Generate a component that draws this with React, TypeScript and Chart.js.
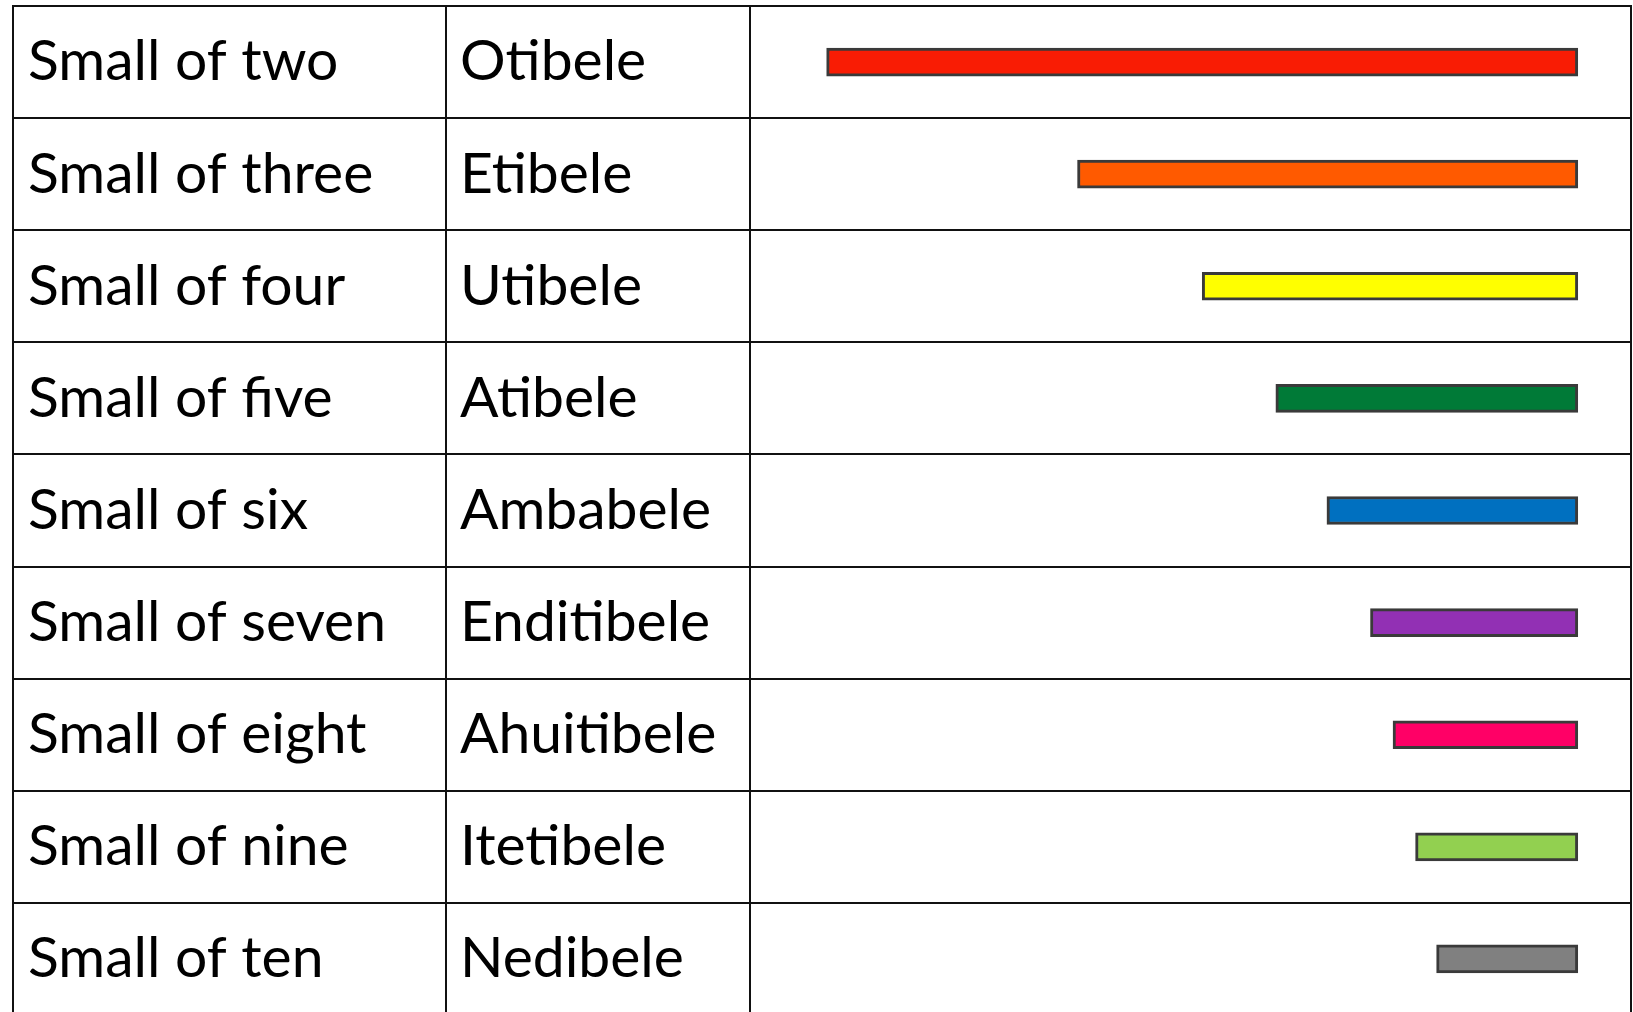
import React, { useEffect, useRef } from "react";
import { Chart, registerables } from "chart.js";

Chart.register(...registerables);

const englishNames = [
  "Small of two",
  "Small of three",
  "Small of four",
  "Small of five",
  "Small of six",
  "Small of seven",
  "Small of eight",
  "Small of nine",
  "Small of ten",
];
const localNames = [
  "Otibele",
  "Etibele",
  "Utibele",
  "Atibele",
  "Ambabele",
  "Enditibele",
  "Ahuitibele",
  "Itetibele",
  "Nedibele",
];
// length of each bar as a part of one whole; all bars end at the whole (1)
const barLengths = [0.5, 0.333, 0.25, 0.201, 0.167, 0.138, 0.123, 0.108, 0.094];
const barEnd = 1;
const barColors = [
  "#F91C04",
  "#FF5A00",
  "#FFFF00",
  "#007A37",
  "#0070C0",
  "#9230B4",
  "#FF0066",
  "#92D050",
  "#808080",
];
const xMin = 0.449;
const xMax = 1.0354;

const LINE = "#111111";
const FONT = { family: "Lato", size: 57 };

const fixPad = (s: any, w: number) => {
  s.width = w;
  s.paddingTop = 0;
  s.paddingBottom = 0;
  s.paddingLeft = 0;
  s.paddingRight = 0;
};

export default function App() {
  const ref = useRef<HTMLCanvasElement | null>(null);

  useEffect(() => {
    if (!ref.current) return;
    const data = barLengths.map((len) => [barEnd - len, barEnd]);
    const chart = new Chart(ref.current, {
      type: "bar",
      data: {
        labels: englishNames,
        datasets: [
          {
            data: data as any,
            backgroundColor: barColors,
            borderColor: "#3A3A3A",
            borderWidth: 3,
            borderSkipped: false,
            barThickness: 28,
            xAxisID: "x",
            yAxisID: "yA",
          },
        ],
      },
      options: {
        indexAxis: "y",
        animation: false,
        responsive: false,
        devicePixelRatio: 1,
        layout: { padding: { left: 0, top: 6, right: 0, bottom: 1 } },
        plugins: { legend: { display: false }, tooltip: { enabled: false } },
        scales: {
          x: { type: "linear", min: xMin, max: xMax, display: false },
          yA: {
            type: "category",
            position: "left",
            weight: 3,
            labels: englishNames,
            offset: true,
            grid: { display: false, offset: true },
            border: { display: true, color: LINE, width: 2 },
            ticks: { mirror: true, padding: 15, color: "#000", font: FONT, autoSkip: false },
            afterFit: (s: any) => fixPad(s, 13),
          },
          yB: {
            type: "category",
            position: "left",
            weight: 2,
            labels: localNames,
            offset: true,
            grid: {
              display: true,
              offset: true,
              drawOnChartArea: false,
              drawTicks: true,
              tickLength: 433,
              color: LINE,
              lineWidth: 2,
            },
            border: { display: true, color: LINE, width: 2 },
            ticks: { mirror: true, padding: 14, color: "#000", font: FONT, autoSkip: false },
            afterFit: (s: any) => fixPad(s, 433),
          },
          ySpacer: {
            type: "category",
            position: "left",
            weight: 1,
            labels: englishNames,
            offset: true,
            grid: {
              display: true,
              offset: true,
              drawOnChartArea: true,
              drawTicks: true,
              tickLength: 304,
              color: LINE,
              lineWidth: 2,
            },
            border: { display: true, color: LINE, width: 2 },
            ticks: { display: false },
            afterFit: (s: any) => fixPad(s, 304),
          },
          yR: {
            type: "category",
            position: "right",
            labels: englishNames,
            offset: true,
            grid: { display: false },
            border: { display: true, color: LINE, width: 2 },
            ticks: { display: false },
            afterFit: (s: any) => fixPad(s, 2),
          },
        },
      },
    });
    return () => chart.destroy();
  }, []);

  return (
    <div
      style={{
        position: "fixed",
        left: 0,
        top: 0,
        width: 1633,
        height: 1012,
        overflow: "hidden",
        background: "#fff",
      }}
    >
      <canvas ref={ref} width={1633} height={1016} style={{ display: "block" }} />
    </div>
  );
}
